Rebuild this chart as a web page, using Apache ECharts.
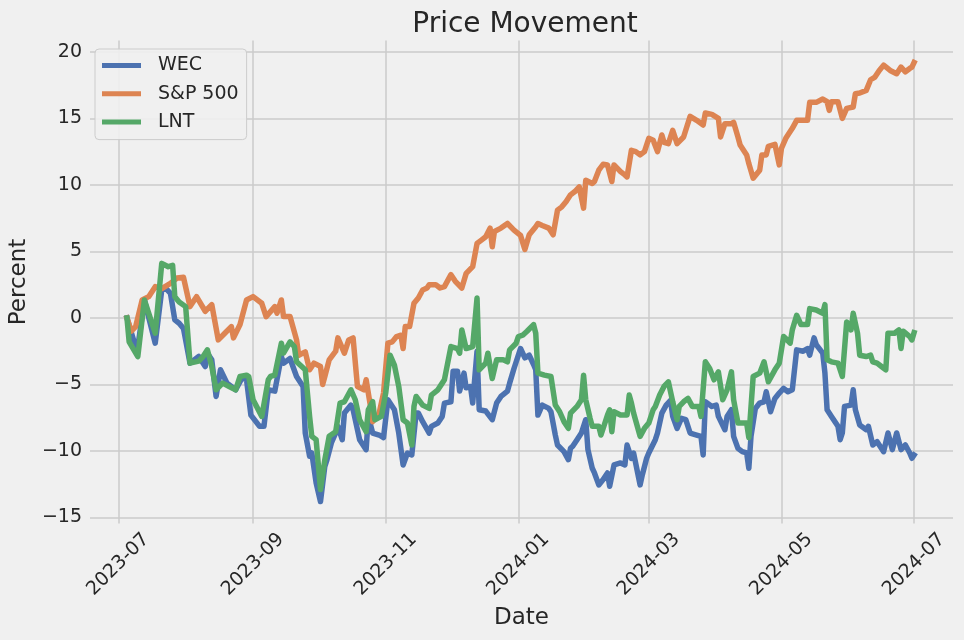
<!DOCTYPE html>
<html><head><meta charset="utf-8">
<style>html,body{margin:0;padding:0;background:#f0f0f0}#chart{width:964px;height:640px}</style>
<script src="https://cdn.jsdelivr.net/npm/echarts@6/dist/echarts.min.js"></script>
</head><body><div id="chart"></div>
<script>
// x values: days since START_DATE, y values: percent change
const START_DATE = '2023-07-01';
const xTickLabels = ['2023-07','2023-09','2023-11','2024-01','2024-03','2024-05','2024-07'];
const yTickValues = [-15,-10,-5,0,5,10,15,20];
const seriesNames = ['WEC','S&P 500','LNT'];
const seriesColors = ['#4c72b0','#dd8452','#55a868'];

const wec = [[4,0],[7,-1.65],[9,-2.2],[12,1.35],[17,-1.9],[20,2.1],[22,2.2],[24,1.85],[26,-0.15],[28,-0.4],[30,-0.8],[33,-3.4],[37,-2.9],[40,-3.65],[41,-2.65],[43,-3.15],[45,-5.9],[47,-3.9],[50,-4.9],[54,-5.4],[57,-4.5],[59,-4.65],[61,-7.3],[65,-8.15],[67,-8.15],[69,-5.4],[72,-5.5],[75,-2.9],[76,-3.4],[79,-3.05],[82,-4.4],[85,-5.15],[86,-8.65],[88,-10.4],[89,-10.15],[91,-12.4],[93,-13.8],[95,-11.15],[96,-10.65],[98,-9.4],[100,-8.65],[101,-8.15],[103,-9.15],[104,-7.15],[107,-6.55],[108,-6.9],[111,-9.15],[114,-9.9],[115,-7.4],[117,-8.65],[120,-8.8],[122,-9.0],[124,-6.15],[127,-6.9],[129,-8.65],[131,-11.05],[133,-10.15],[135,-10.3],[137,-7.15],[138,-7.15],[140,-7.8],[143,-8.65],[144,-8.15],[147,-7.9],[149,-7.4],[150,-6.4],[153,-6.3],[154,-4.0],[156,-4.0],[157,-5.5],[159,-4.15],[160,-5.25],[162,-5.15],[163,-6.4],[165,-2.5],[166,-6.9],[169,-7.0],[172,-7.65],[174,-6.4],[176,-5.9],[179,-5.5],[180,-4.9],[182,-3.8],[185,-2.3],[187,-3.0],[189,-2.8],[191,-3.5],[192,-3.9],[193,-7.3],[195,-6.55],[198,-6.8],[199,-7.05],[201,-8.8],[202,-9.55],[205,-10.05],[207,-10.65],[208,-9.8],[209,-9.65],[211,-9.15],[213,-8.65],[215,-7.65],[216,-9.9],[218,-11.3],[219,-11.65],[221,-12.55],[223,-12.15],[225,-11.65],[226,-12.65],[228,-11.05],[231,-10.9],[233,-11.05],[234,-9.55],[236,-10.55],[237,-10.15],[240,-12.55],[241,-11.8],[243,-10.55],[244,-10.15],[247,-9.15],[248,-8.65],[250,-7.15],[252,-6.55],[254,-6.2],[255,-7.4],[257,-8.3],[259,-7.55],[261,-7.65],[263,-8.65],[266,-8.8],[268,-8.9],[269,-10.3],[270,-6.3],[273,-6.65],[275,-6.55],[276,-7.4],[279,-8.4],[280,-7.4],[282,-6.9],[283,-8.9],[285,-9.8],[287,-10.05],[289,-10.15],[290,-11.3],[291,-8.9],[293,-6.8],[295,-6.4],[297,-6.3],[298,-5.55],[300,-7.05],[302,-6.05],[304,-5.65],[306,-5.3],[308,-5.55],[310,-5.4],[312,-2.4],[315,-2.5],[317,-2.3],[318,-2.8],[320,-1.5],[321,-2.0],[324,-2.65],[325,-4.15],[326,-6.9],[328,-7.4],[331,-8.15],[332,-9.15],[333,-8.65],[334,-6.65],[337,-6.55],[338,-5.4],[339,-6.9],[341,-8.05],[344,-8.4],[345,-8.15],[347,-9.55],[349,-9.3],[352,-10.05],[354,-8.65],[356,-9.9],[358,-8.65],[360,-9.9],[362,-9.55],[364,-10.15],[365,-10.55],[366,-10.3]];

const sp500 = [[4,0],[6,-1.0],[8,-0.65],[11,1.35],[14,1.6],[17,2.35],[20,2.2],[24,2.6],[27,3.0],[30,3.05],[33,0.85],[36,1.6],[40,0.5],[43,1.0],[46,-1.65],[49,-1.15],[52,-0.65],[53,-1.5],[56,-0.5],[59,1.35],[62,1.6],[66,1.1],[68,0.1],[72,0.85],[73,0.35],[75,1.35],[76,0.1],[79,0.1],[82,-1.65],[83,-2.8],[86,-2.55],[88,-3.9],[90,-3.4],[93,-3.65],[94,-5.0],[95,-4.4],[97,-3.15],[100,-2.5],[101,-1.5],[104,-2.65],[106,-1.65],[108,-1.5],[110,-5.15],[113,-5.4],[114,-4.65],[116,-6.65],[117,-7.8],[120,-7.15],[122,-5.65],[124,-1.9],[126,-1.8],[128,-1.4],[130,-1.3],[131,-2.3],[132,-0.65],[134,-0.65],[136,1.1],[138,1.5],[140,2.1],[142,2.25],[143,2.5],[146,2.5],[148,2.25],[150,2.35],[153,3.25],[155,2.75],[158,2.25],[160,3.35],[163,3.85],[165,5.6],[167,5.85],[169,6.1],[171,6.75],[172,5.35],[173,6.5],[176,6.75],[179,7.1],[182,6.6],[185,6.2],[187,5.15],[189,6.25],[192,6.85],[193,7.1],[195,6.95],[198,6.75],[200,6.25],[202,8.1],[204,8.35],[206,8.75],[208,9.25],[210,9.5],[212,9.85],[214,8.25],[215,10.35],[218,10.1],[219,10.25],[221,11.1],[223,11.55],[225,11.5],[227,10.25],[228,11.5],[231,11.0],[233,10.75],[234,10.6],[236,12.6],[238,12.5],[240,12.25],[242,12.5],[244,13.5],[246,13.35],[248,12.5],[250,13.75],[251,13.2],[253,13.1],[255,14.1],[257,13.1],[260,13.6],[263,15.15],[266,14.85],[269,14.5],[270,15.4],[273,15.3],[276,15.0],[277,13.6],[279,14.6],[282,14.6],[283,14.7],[285,13.6],[286,13.0],[289,12.25],[290,11.6],[292,10.5],[295,11.1],[296,12.25],[298,12.25],[299,12.9],[302,13.05],[304,11.5],[305,12.75],[307,13.5],[310,14.25],[312,14.85],[315,14.85],[317,14.85],[318,16.2],[321,16.2],[324,16.45],[326,16.25],[327,15.6],[328,16.25],[331,16.25],[333,15.0],[335,15.75],[338,15.85],[339,16.85],[341,16.9],[344,17.1],[346,17.9],[348,18.1],[350,18.6],[352,19.0],[355,18.6],[358,18.35],[360,18.85],[362,18.5],[364,18.75],[365,18.85],[366,19.2]];

const lnt = [[4,0],[5,-1.8],[9,-2.9],[12,1.35],[17,-1.15],[20,4.1],[23,3.85],[25,3.95],[26,1.6],[28,1.2],[31,0.85],[33,-3.4],[37,-3.25],[39,-2.9],[41,-2.4],[43,-3.65],[45,-5.4],[48,-4.9],[51,-5.15],[54,-5.4],[56,-4.4],[59,-4.3],[60,-4.4],[62,-6.15],[66,-7.4],[69,-4.65],[70,-4.4],[72,-4.3],[75,-1.9],[76,-2.65],[79,-1.8],[81,-2.15],[82,-3.3],[86,-3.9],[88,-7.4],[89,-8.9],[91,-9.15],[93,-12.9],[95,-10.65],[97,-8.9],[100,-8.55],[102,-6.4],[104,-6.3],[107,-5.4],[109,-6.15],[111,-7.65],[114,-8.55],[115,-6.9],[117,-6.3],[118,-7.65],[121,-7.4],[123,-5.65],[125,-2.8],[127,-3.55],[129,-5.15],[131,-7.65],[133,-7.9],[135,-9.55],[136,-6.65],[137,-5.9],[140,-6.55],[143,-6.8],[144,-5.8],[147,-5.4],[149,-4.9],[150,-4.65],[153,-2.15],[156,-2.3],[157,-2.65],[158,-0.9],[160,-2.3],[163,-2.15],[165,1.5],[166,-3.9],[169,-3.4],[170,-2.65],[172,-4.55],[174,-3.15],[177,-3.15],[179,-3.3],[180,-2.4],[183,-1.9],[184,-1.4],[186,-1.3],[188,-1.0],[191,-0.5],[192,-1.15],[193,-4.15],[196,-4.3],[199,-4.4],[201,-6.55],[203,-7.05],[205,-7.8],[207,-8.3],[208,-7.15],[211,-6.65],[213,-6.15],[214,-4.3],[215,-6.15],[217,-7.55],[218,-8.15],[221,-8.15],[222,-8.8],[225,-7.3],[226,-6.9],[227,-8.55],[228,-7.05],[231,-7.3],[234,-7.3],[235,-5.8],[236,-6.4],[237,-7.15],[240,-8.9],[242,-8.3],[244,-7.9],[246,-6.9],[247,-6.65],[249,-5.8],[251,-5.15],[253,-4.8],[255,-6.3],[257,-7.65],[258,-6.65],[260,-6.3],[262,-6.05],[264,-6.65],[267,-6.65],[268,-7.4],[270,-3.3],[272,-3.8],[274,-4.65],[276,-4.05],[278,-6.15],[280,-5.4],[282,-4.05],[283,-6.15],[285,-7.9],[287,-7.9],[289,-7.9],[290,-9.0],[292,-4.4],[295,-4.15],[297,-3.3],[299,-4.8],[302,-3.9],[304,-3.4],[306,-1.4],[307,-1.55],[309,-1.9],[310,-0.9],[312,0.2],[314,-0.5],[317,-0.5],[318,0.7],[321,0.6],[324,0.35],[325,1.0],[326,-3.15],[328,-3.3],[331,-3.4],[333,-4.4],[335,-0.3],[337,-0.9],[338,0.35],[340,-1.15],[341,-2.8],[344,-2.9],[346,-2.8],[347,-3.3],[349,-3.4],[351,-3.65],[353,-3.9],[354,-1.15],[357,-1.15],[359,-0.9],[360,-2.3],[361,-1.0],[364,-1.4],[365,-1.65],[366,-1.1]];

// visible date range, in days since START_DATE
const xRangeDays = [-13.0, 383.9];

const DAY = 86400000;
const t0 = Date.parse(START_DATE + 'T00:00:00Z');
const dayOf = s => (Date.parse(s + '-01T00:00:00Z') - t0) / DAY;
const xTickDays = xTickLabels.map(dayOf);
const seriesData = [wec, sp500, lnt];

const FONT = 'DejaVu Sans';
const TXT = '#262626';
const GRID = '#cbcbcb';
const pad5 = e => { const r = e.max - e.min; return { lo: e.min - 0.05 * r, hi: e.max + 0.05 * r }; };
const fmtMonth = v => { const d = new Date(t0 + v * DAY); return d.getUTCFullYear() + '-' + String(d.getUTCMonth() + 1).padStart(2, '0'); };

const chart = echarts.init(document.getElementById('chart'), null, { renderer: 'canvas' });
chart.setOption({
  backgroundColor: '#f0f0f0',
  animation: false,
  textStyle: { fontFamily: FONT },
  title: {
    text: 'Price Movement', left: 520, top: 6, textAlign: 'center',
    textStyle: { fontFamily: FONT, fontSize: 28, fontWeight: 'normal', color: TXT }
  },
  legend: {
    data: seriesNames, orient: 'vertical', left: 95, top: 49,
    padding: [7, 8, 8, 7], itemGap: 9.3, itemWidth: 39, itemHeight: 5,
    icon: 'rect', backgroundColor: 'rgba(240,240,240,0.9)', borderColor: '#cccccc',
    borderWidth: 1, borderRadius: 4,
    textStyle: { fontFamily: FONT, fontSize: 19, color: TXT, padding: [0, 0, 0, 12] }
  },
  grid: { left: 87, right: 11, top: 40.5, bottom: 116.5, containLabel: false },
  xAxis: {
    type: 'value',
    min: xRangeDays[0], max: xRangeDays[1],
    name: 'Date', nameLocation: 'middle', nameGap: 80,
    nameTextStyle: { fontFamily: FONT, fontSize: 23, color: TXT },
    axisLine: { show: false },
    axisTick: { show: false, customValues: xTickDays },
    axisLabel: {
      customValues: xTickDays, rotate: 45, margin: 41, align: 'center', verticalAlign: 'middle',
      fontFamily: FONT, fontSize: 19, color: TXT, formatter: fmtMonth
    },
    splitLine: { show: true, lineStyle: { color: GRID, width: 1.5 } }
  },
  yAxis: {
    type: 'value',
    min: e => pad5(e).lo, max: e => pad5(e).hi,
    name: 'Percent', nameLocation: 'middle', nameGap: 49, nameRotate: 90,
    nameTextStyle: { fontFamily: FONT, fontSize: 23, color: TXT },
    axisLine: { show: false },
    axisTick: { show: false, customValues: yTickValues },
    axisLabel: {
      customValues: yTickValues, margin: 8, fontFamily: FONT, fontSize: 19, color: TXT,
      formatter: v => String(v).replace('-', '\u2212')
    },
    splitLine: { show: true, lineStyle: { color: GRID, width: 1.5 } }
  },
  series: seriesNames.map((n, i) => ({
    name: n, type: 'line', data: seriesData[i], showSymbol: false,
    color: seriesColors[i],
    lineStyle: { width: 5.5, color: seriesColors[i], cap: 'square', join: 'round' }
  }))
});
</script>
</body></html>
